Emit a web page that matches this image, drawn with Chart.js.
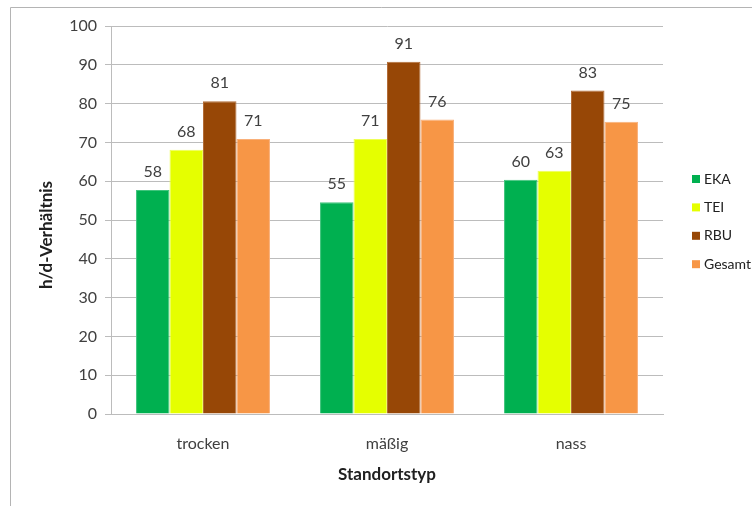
<!DOCTYPE html>
<html>
<head>
<meta charset="utf-8">
<script src="https://cdn.jsdelivr.net/npm/chart.js@4"></script>
<style>
  body { margin: 0; background: #fff; }
  canvas { display: block; }
</style>
</head>
<body>
<canvas id="chart" width="752" height="506"></canvas>
<script>
// Site types on the x axis
const categories = ["trocken", "mäßig", "nass"];

// h/d ratio per species group
const seriesNames = ["EKA", "TEI", "RBU", "Gesamt"];
const ekaValues = [57.7, 54.6, 60.4];
const teiValues = [68.1, 70.9, 62.7];
const rbuValues = [80.6, 90.8, 83.4];
const gesamtValues = [70.9, 75.9, 75.3];

// Y axis range and step
const yMin = 0;
const yMax = 100;
const yStep = 10;

const barColors = ["#00b050", "#e5ff00", "#974706", "#f79646"];
const barEdges = ["#40c47c", "#eeff59", "#b26c37", "#f9b07a"];

const textColor = "#404040";
const gridColor = "#bcbcbc";
const fontFamily = "Lato, 'Open Sans', sans-serif";

// Frame round the chart (top and left edge only, like the picture)
const framePlugin = {
  id: "frame",
  beforeDraw(chart) {
    const ctx = chart.ctx;
    ctx.save();
    ctx.fillStyle = "#ffffff";
    ctx.fillRect(0, 0, chart.width, chart.height);
    ctx.strokeStyle = "#b4b4b4";
    ctx.lineWidth = 1;
    ctx.beginPath();
    ctx.moveTo(10.5, chart.height);
    ctx.lineTo(10.5, 7.5);
    ctx.lineTo(chart.width, 7.5);
    ctx.stroke();
    ctx.restore();
  },
};

// Value labels above each bar
const valueLabelPlugin = {
  id: "valueLabels",
  afterDatasetsDraw(chart) {
    const ctx = chart.ctx;
    ctx.save();
    ctx.font = "16px " + fontFamily;
    ctx.fillStyle = textColor;
    ctx.textAlign = "center";
    ctx.textBaseline = "middle";
    chart.data.datasets.forEach((ds, i) => {
      const meta = chart.getDatasetMeta(i);
      meta.data.forEach((bar, j) => {
        ctx.fillText(Math.round(ds.data[j]), bar.x, bar.y - 18);
      });
    });
    ctx.restore();
  },
};

// Legend on the right and the y axis title
const sideTextPlugin = {
  id: "sideText",
  afterDraw(chart) {
    const ctx = chart.ctx;
    ctx.save();
    ctx.font = "14px " + fontFamily;
    ctx.textBaseline = "middle";
    ctx.textAlign = "left";
    chart.data.datasets.forEach((ds, i) => {
      const y = 179 + i * 28.4;
      ctx.fillStyle = ds.backgroundColor;
      ctx.fillRect(692, y - 4, 8, 8);
      ctx.fillStyle = "#202020";
      ctx.fillText(ds.label, 704, y);
    });

    ctx.font = "bold 17px " + fontFamily;
    ctx.fillStyle = "#202020";
    ctx.textAlign = "center";
    ctx.translate(47, 235);
    ctx.rotate(-Math.PI / 2);
    ctx.fillText("h/d-Verhältnis", 0, 0);
    ctx.restore();
  },
};

const seriesValues = [ekaValues, teiValues, rbuValues, gesamtValues];

new Chart(document.getElementById("chart"), {
  type: "bar",
  plugins: [framePlugin, valueLabelPlugin, sideTextPlugin],
  data: {
    labels: categories,
    datasets: seriesNames.map((name, i) => ({
      label: name,
      data: seriesValues[i],
      backgroundColor: barColors[i],
      borderColor: barEdges[i],
      borderWidth: 1,
      barPercentage: 1,
      categoryPercentage: 0.728,
    })),
  },
  options: {
    responsive: false,
    animation: false,
    layout: { padding: { left: 0, right: 89, top: 26, bottom: 0 } },
    plugins: {
      legend: { display: false },
      tooltip: { enabled: false },
    },
    scales: {
      x: {
        grid: { display: false, drawTicks: false },
        border: { color: gridColor, width: 1 },
        ticks: {
          color: textColor,
          font: { family: fontFamily, size: 16 },
          padding: 20,
        },
        title: {
          display: true,
          text: "Standortstyp",
          color: "#202020",
          font: { family: fontFamily, size: 17, weight: "bold" },
          padding: { top: 0, bottom: 21 },
        },
        afterFit(scale) {
          scale.height = 92;
        },
      },
      y: {
        min: yMin,
        max: yMax,
        grid: { color: gridColor, tickLength: 6 },
        border: { color: gridColor, width: 1 },
        ticks: {
          stepSize: yStep,
          color: textColor,
          font: { family: fontFamily, size: 16 },
          padding: 8,
        },
        afterFit(scale) {
          scale.width = 111;
        },
      },
    },
  },
});
</script>
</body>
</html>
